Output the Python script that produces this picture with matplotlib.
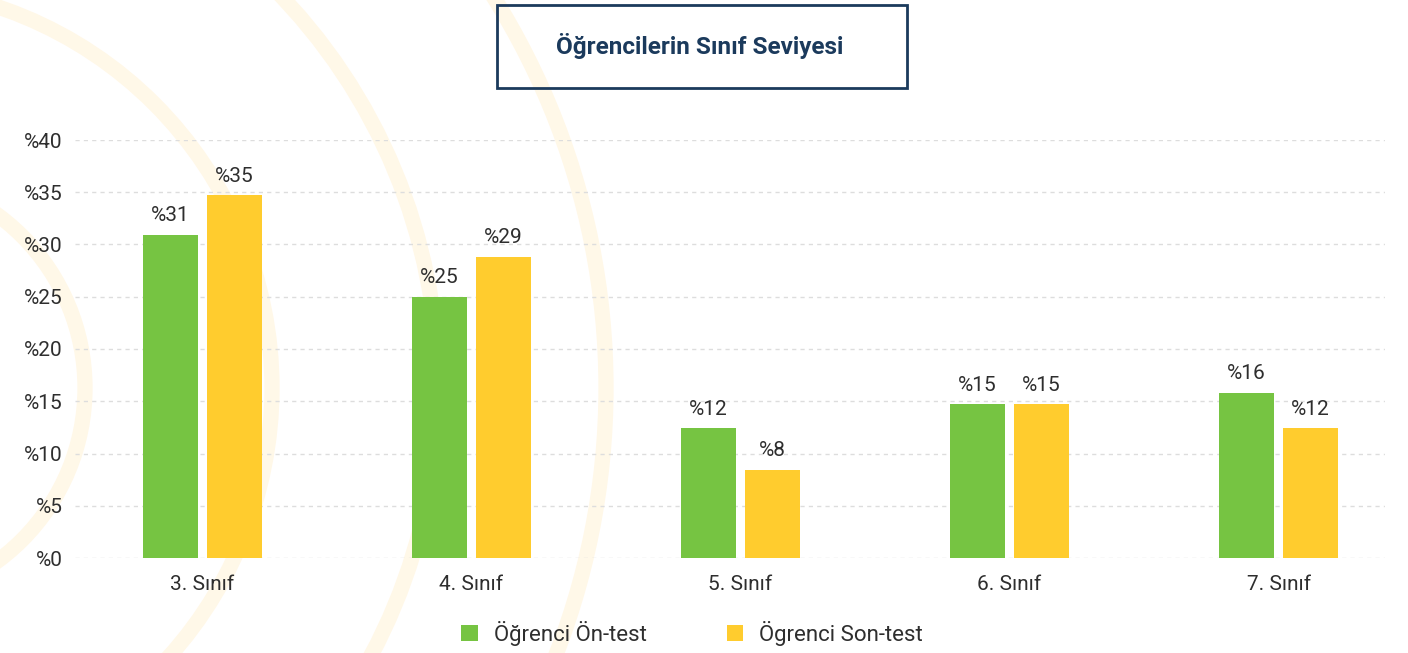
import matplotlib
matplotlib.use("Agg")
import matplotlib.pyplot as plt
from matplotlib.patches import Circle, Rectangle
import numpy as np

categories = ["3. Sınıf", "4. Sınıf", "5. Sınıf", "6. Sınıf", "7. Sınıf"]
on_test = [30.9, 25.0, 12.4, 14.7, 15.8]
son_test = [34.7, 28.8, 8.4, 14.7, 12.4]
series_names = ["Öğrenci Ön-test", "Ögrenci Son-test"]
yticks = [0, 5, 10, 15, 20, 25, 30, 35, 40]
title = "Öğrencilerin Sınıf Seviyesi"

GREEN = "#76C442"
YELLOW = "#FFCC2E"
TXT = "#2E2E2E"
NAVY = "#1B3A5C"
FONT = "Roboto"

W, H = 1408, 653
fig = plt.figure(figsize=(W / 100, H / 100), dpi=100)

# decorative background arcs
bg = fig.add_axes([0, 0, 1, 1], zorder=-5)
bg.set_xlim(0, W)
bg.set_ylim(H, 0)
bg.axis("off")
for r in [215, 402, 568, 736]:
    bg.add_patch(Circle((-130, 388), r, fill=False, ec="#FFF8E8", lw=11))

ax = fig.add_axes([75 / W, 1 - 558 / H, (1385 - 75) / W, (558 - 140) / H])
ax.set_facecolor("none")
x = np.arange(len(categories))
bw = 0.204
off = 0.119
b1 = ax.bar(x - off, on_test, bw, color=GREEN, label=series_names[0], zorder=3)
b2 = ax.bar(x + off, son_test, bw, color=YELLOW, label=series_names[1], zorder=3)

for bars, vals in [(b1, on_test), (b2, son_test)]:
    for rect, v in zip(bars, vals):
        ax.annotate(f"%{int(round(v))}", (rect.get_x() + rect.get_width() / 2, v),
                    xytext=(0, 7), textcoords="offset points", ha="center", va="bottom",
                    fontsize=15, color=TXT, family=FONT)

ax.set_xlim(-0.473, 4.395)
ax.set_ylim(0, 40)
ax.set_yticks(yticks)
ax.set_yticklabels([f"%{t}" for t in yticks], fontsize=15, color=TXT, family=FONT)
ax.set_xticks(x)
ax.set_xticklabels(categories, fontsize=15, color=TXT, family=FONT)
ax.tick_params(axis="both", length=0)
ax.tick_params(axis="y", pad=9)
ax.tick_params(axis="x", pad=12)
for s in ax.spines.values():
    s.set_visible(False)
ax.grid(axis="y", color="#DDDDDD", linestyle=(0, (3, 3)), lw=1, zorder=0)

# title box
fig.patches.append(Rectangle((497 / W, 1 - 88 / H), 410 / W, 83 / H, transform=fig.transFigure,
                             fill=False, ec=NAVY, lw=2))
fig.text(700 / W, 1 - 46 / H, title, ha="center", va="center", fontsize=17.5,
         fontweight="bold", color=NAVY, family=FONT)

leg = fig.legend(handles=[b1, b2], loc="center", bbox_to_anchor=(692 / W, 1 - 633 / H),
                 ncol=2, frameon=False, handlelength=0.75, handleheight=0.75,
                 columnspacing=3.6, handletextpad=0.7,
                 prop={"family": FONT, "size": 16})
for t in leg.get_texts():
    t.set_color(TXT)

fig.savefig("out.png", dpi=100)
